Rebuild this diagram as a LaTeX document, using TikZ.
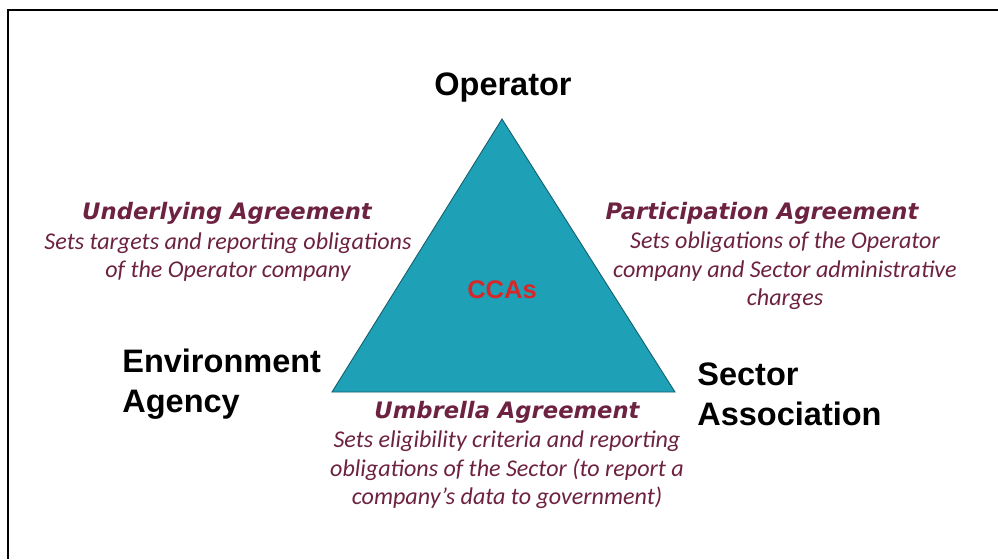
\documentclass[tikz,border=0pt]{standalone}
\usepackage{fontspec}
\setmainfont{Liberation Sans}
\newfontfamily\bodyfont{Carlito}
\newfontfamily\headfont{DejaVu Sans}

\definecolor{ccateal}{RGB}{30,160,182}
\definecolor{ccaedge}{RGB}{20,95,110}
\definecolor{maroon}{RGB}{108,34,64}
\definecolor{ccared}{RGB}{214,40,40}

\begin{document}
\begin{tikzpicture}[x=0.02cm,y=-0.02cm,
		party/.style={inner sep=0pt,font=\fontsize{18.5}{22.7}\selectfont\bfseries,align=left},
		heading/.style={inner sep=0pt,text=maroon,font=\headfont\fontsize{12.9}{15}\selectfont\bfseries\itshape},
		duty/.style={inner sep=0pt,text=maroon,align=center,font=\bodyfont\fontsize{13.7}{16.2}\selectfont\itshape}]
		\useasboundingbox (0,0) rectangle (998,559);
		\draw [black,line width=1.1pt] (998,10) -- (8,10) -- (8,559);
		\coordinate (top) at (502,119);
		\coordinate (left) at (332,392);
		\coordinate (right) at (675,392);
		\filldraw [fill=ccateal,draw=ccaedge,line width=0.5pt] (top) -- (left) -- (right) -- cycle;
		\node [inner sep=0pt,text=ccared,font=\fontsize{14.5}{16}\selectfont\bfseries] (ccas) at (502,290) {CCAs};
		\node [party] (operator) at (503,88) {Operator};
		\node [party,anchor=west] (agency) at (122,384) {Environment\\Agency};
		\node [party,anchor=west] (sector) at (697,394) {Sector\\Association};
		\node [heading] (ua) at (227,213) {Underlying Agreement};
		\node [duty] (uatext) at (228,257) {Sets targets and reporting obligations\\of the Operator company};
		\node [heading] (pa) at (762,213) {Participation Agreement};
		\node [duty] (patext) at (785,271) {Sets obligations of the Operator\\company and Sector administrative\\charges};
		\node [heading] (umb) at (507,412) {Umbrella Agreement};
		\node [duty] (umbtext) at (507,470) {Sets eligibility criteria and reporting\\obligations of the Sector (to report a\\company’s data to government)};
	\end{tikzpicture}
\end{document}
